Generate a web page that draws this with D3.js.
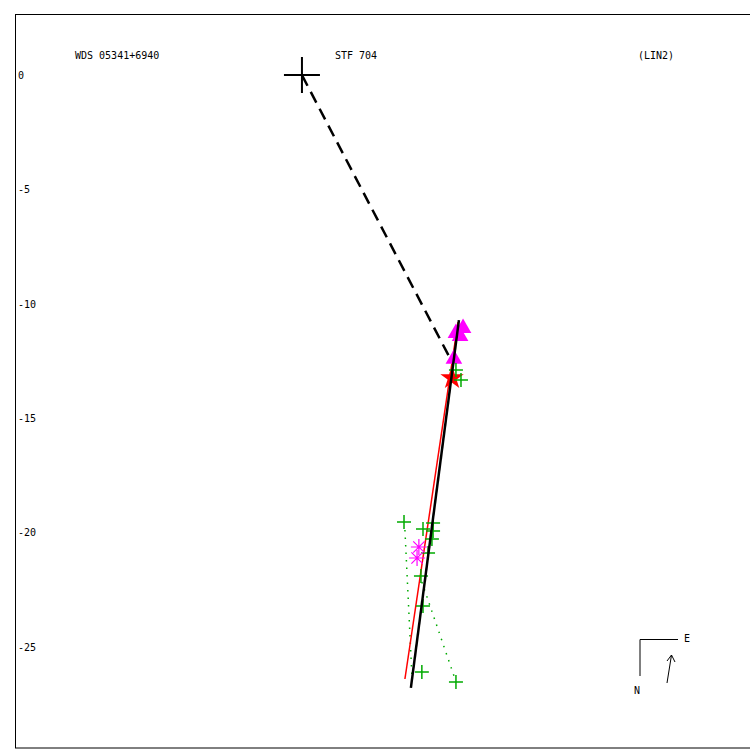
<!DOCTYPE html>
<html><head><meta charset="utf-8">
<script src="https://cdn.jsdelivr.net/npm/d3@7"></script>
<style>body{margin:0;background:#fff}svg{display:block}text{font-family:"DejaVu Sans Mono",monospace;font-size:10px}</style>
</head><body>
<script>
// Data (arcsec-like units, x to the right, y up)
const titleLabels = ["WDS 05341+6940", "STF 704", "(LIN2)"];
const yTicks = [0, -5, -10, -15, -20, -25];
const primary = [0, 0];
const triangles = [[7.04,-11.06],[6.73,-11.28],[6.91,-11.41],[6.64,-12.41]];
const stars = [[6.56,-13.24]];
const greenCrosses = [[6.73,-12.89],[6.95,-13.33],[4.46,-19.54],[5.29,-19.84],[5.73,-19.58],[5.73,-19.93],[5.68,-20.28],[5.51,-20.89],[5.20,-21.90],[5.29,-23.21],[5.24,-26.09],[6.73,-26.53]];
const asterisks = [[5.11,-20.63],[5.03,-21.11]];
const fitBlack = [[6.86,-10.71],[4.76,-26.79]];
const fitRed = [[6.82,-10.80],[4.50,-26.40]];
const dashedLine = [[0,0],[6.42,-12.28]];
const ocLines = [[[4.50,-19.89],[4.81,-26.35]],[[5.24,-22.16],[6.69,-26.40]]];

const W = 750, H = 750;
const svg = d3.select("body").append("svg").attr("width", W).attr("height", H);
const x = d3.scaleLinear().domain([-12.54, 19.58]).range([15, 750]);
const y = d3.scaleLinear().domain([2.67, -29.46]).range([14, 749]);

svg.append("rect").attr("x",15.5).attr("y",14.5).attr("width",740).attr("height",733.5)
  .attr("fill","none").attr("stroke","#000").attr("stroke-width",1);

// titles
const tx = [75, 335, 638];
titleLabels.forEach((t,i)=>svg.append("text").attr("x",tx[i]).attr("y",59).attr("fill","#000").text(t));

// y axis labels
const ax = svg.append("g").attr("transform","translate(15,0)")
  .call(d3.axisRight(y).tickValues(yTicks).tickSize(0).tickPadding(3).tickFormat(d=>String(d)));
ax.select(".domain").remove();
ax.selectAll("text").style("font-family","DejaVu Sans Mono").style("font-size","10px").attr("fill","#000");

const line = d3.line().x(d=>x(d[0])).y(d=>y(d[1]));

// O-C dotted lines
ocLines.forEach(l=>svg.append("path").attr("d",line(l)).attr("stroke","#0a0").attr("stroke-width",1.5)
  .attr("stroke-dasharray","1.5,6").attr("fill","none"));

// red fit
svg.append("path").attr("d",line(fitRed)).attr("stroke","#f00").attr("stroke-width",1.5).attr("fill","none");

// triangles
const triSym = d3.symbol().type(d3.symbolTriangle).size(120);
svg.selectAll(".tri").data(triangles).join("path").attr("transform",d=>`translate(${x(d[0])},${y(d[1])})`)
  .attr("d",triSym).attr("fill","#f0f");

// star
svg.selectAll(".star").data(stars).join("path").attr("transform",d=>`translate(${x(d[0])},${y(d[1])})`)
  .attr("d",d3.symbol().type(d3.symbolStar).size(170)).attr("fill","#f00");

// green crosses
const cr = 7;
svg.selectAll(".gc").data(greenCrosses).join("path")
  .attr("d",d=>{const px=x(d[0]),py=y(d[1]);return `M${px-cr},${py}H${px+cr}M${px},${py-cr}V${py+cr}`;})
  .attr("stroke","#0a0").attr("stroke-width",1.5).attr("fill","none");

// asterisks
const ar = 8;
svg.selectAll(".as").data(asterisks).join("path")
  .attr("d",d=>{const px=x(d[0]),py=y(d[1]);let s="";for(let k=0;k<4;k++){const a=k*Math.PI/4;s+=`M${px-ar*Math.cos(a)},${py-ar*Math.sin(a)}L${px+ar*Math.cos(a)},${py+ar*Math.sin(a)}`;}return s;})
  .attr("stroke","#f0f").attr("stroke-width",1.2).attr("fill","none");

// black fit
svg.append("path").attr("d",line(fitBlack)).attr("stroke","#000").attr("stroke-width",2.5).attr("fill","none");

// dashed line to primary
svg.append("path").attr("d",line(dashedLine)).attr("stroke","#000").attr("stroke-width",2.5)
  .attr("stroke-dasharray","12,7").attr("fill","none");

// primary cross
const pr = 18;
svg.append("path").attr("d",`M${x(primary[0])-pr},${y(primary[1])}H${x(primary[0])+pr}M${x(primary[0])},${y(primary[1])-pr}V${y(primary[1])+pr}`)
  .attr("stroke","#000").attr("stroke-width",2).attr("fill","none");

// compass
const cg = svg.append("g");
cg.append("path").attr("d","M640,676V639.5H678").attr("stroke","#000").attr("fill","none").attr("stroke-width",1);
cg.append("text").attr("x",684).attr("y",642).attr("fill","#000").text("E");
cg.append("text").attr("x",634).attr("y",694).attr("fill","#000").text("N");
cg.append("path").attr("d","M667,683L671.5,655M667,661L671.5,655L675,662").attr("stroke","#000").attr("fill","none").attr("stroke-width",1);
</script>
</body></html>
